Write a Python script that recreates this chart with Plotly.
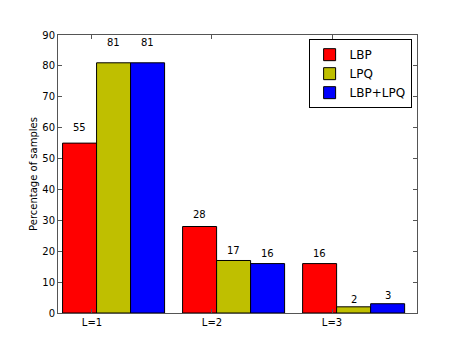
import plotly.graph_objects as go

levels = ["L=1", "L=2", "L=3"]
lbp = [55, 28, 16]
lpq = [81, 17, 2]
lbp_lpq = [81, 16, 3]

series = [
    ("LBP", lbp, "#ff0000"),
    ("LPQ", lpq, "#bfbf00"),
    ("LBP+LPQ", lbp_lpq, "#0000ff"),
]

group_x = list(range(len(levels)))
width = 0.2833

fig = go.Figure()
annotations = []
for k, (name, vals, color) in enumerate(series):
    xs = [g + (k - 1) * width for g in group_x]
    fig.add_trace(
        go.Bar(
            x=xs,
            y=vals,
            width=width,
            name=name,
            marker=dict(color=color, line=dict(color="black", width=1)),
        )
    )
    for x, v in zip(xs, vals):
        annotations.append(
            dict(
                x=x, y=1.05 * v, text=str(v), showarrow=False,
                xref="x", yref="y", yanchor="bottom",
                font=dict(size=10, color="black"),
            )
        )

axis_style = dict(
    showline=True, linecolor="#555555", linewidth=1, mirror="ticks",
    ticks="inside", ticklen=4, tickcolor="#555555", showgrid=False,
    zeroline=False, tickfont=dict(size=10, color="black"), automargin=False,
)

# the page body has an 8px margin, so the figure is a little smaller
fig.update_layout(
    width=447,
    height=332,
    margin=dict(l=50, r=38, t=27, b=27),
    paper_bgcolor="white",
    plot_bgcolor="white",
    font=dict(family="DejaVu Sans", size=10, color="black"),
    barmode="overlay",
    annotations=annotations,
    showlegend=True,
    legend=dict(
        x=0.985, y=0.985, xanchor="right", yanchor="top",
        bordercolor="black", borderwidth=1, bgcolor="white",
        font=dict(size=12), tracegroupgap=0, itemwidth=30,
    ),
    xaxis=dict(
        range=[-0.463, 2.528],
        tickvals=[g - 0.18 for g in group_x],
        ticktext=levels,
        **axis_style,
    ),
    yaxis=dict(
        range=[0, 90],
        dtick=10,
        title=dict(text="Percentage of samples", font=dict(size=10), standoff=2),
        **axis_style,
    ),
)

fig.write_html("out.html")
